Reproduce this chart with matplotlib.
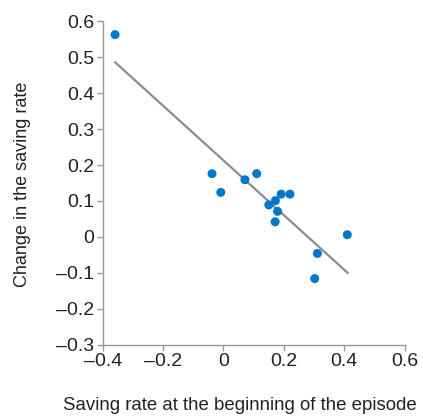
import numpy as np
import matplotlib.pyplot as plt

# saving rate at start of episode vs change in saving rate
start_rate = [-0.359, -0.038, -0.009, 0.071, 0.110, 0.150, 0.172, 0.191,
              0.220, 0.179, 0.171, 0.410, 0.311, 0.302]
change_rate = [0.563, 0.176, 0.124, 0.159, 0.176, 0.089, 0.101, 0.119,
               0.119, 0.071, 0.042, 0.006, -0.046, -0.116]

# fitted line end points
line_x = [-0.359, 0.411]
line_y = [0.486, -0.100]

xticks = [-0.4, -0.2, 0, 0.2, 0.4, 0.6]
yticks = [-0.3, -0.2, -0.1, 0, 0.1, 0.2, 0.3, 0.4, 0.5, 0.6]


def fmt(v):
    s = f"{v:.1f}" if v != 0 else "0"
    return s.replace("-", "\u2013")


plt.rcParams['font.family'] = ['Liberation Sans', 'DejaVu Sans']

W, H = 423, 418
fig = plt.figure(figsize=(W / 100, H / 100), dpi=100)
ax = fig.add_axes([0.2428, 0.1754, 0.7139, 0.7736])

ax.plot(line_x, line_y, color='#8c8c8c', lw=1.6, zorder=2)
ax.scatter(start_rate, change_rate, s=42, color='#0077c8', edgecolors='none', zorder=3)

ax.set_xlim(-0.4, 0.6)
ax.set_ylim(-0.3, 0.6)
ax.set_xticks(xticks)
ax.set_yticks(yticks)
ax.set_xticklabels([fmt(v) for v in xticks])
ax.set_yticklabels([fmt(v) for v in yticks])

for s in ['top', 'right']:
    ax.spines[s].set_visible(False)
for s in ['left', 'bottom']:
    ax.spines[s].set_color('#9a9a9a')
    ax.spines[s].set_linewidth(1.0)
ax.tick_params(direction='out', length=4, width=1.0, color='#9a9a9a',
               labelsize=14, labelcolor='#222222', pad=2)

fig.text(240 / W, 1 - 406 / H, 'Saving rate at the beginning of the episode',
         fontsize=13.4, color='#222222', ha='center', va='center')
fig.text(23 / W, 1 - 184 / H, 'Change in the saving rate', fontsize=13,
         color='#222222', ha='center', va='center', rotation=90)

fig.savefig('out.png', dpi=100)
